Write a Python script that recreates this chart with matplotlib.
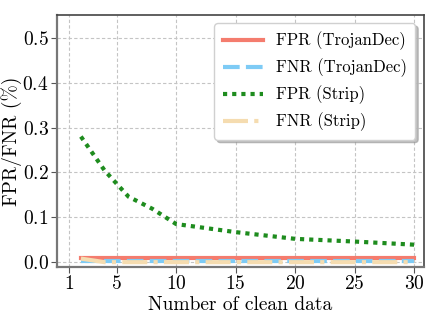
import matplotlib
matplotlib.use('Agg')
import matplotlib.pyplot as plt

# Fonts that look like LaTeX Computer Modern
plt.rcParams['font.family'] = 'serif'
plt.rcParams['font.serif'] = ['cmr10']
plt.rcParams['mathtext.fontset'] = 'cm'
plt.rcParams['axes.formatter.use_mathtext'] = True

# Data
x_strip = [2, 4, 6, 8, 10, 15, 20, 25, 30]
fpr_strip = [0.28, 0.204, 0.146, 0.119, 0.085, 0.067, 0.052, 0.046, 0.039]
fnr_strip = [0.008, 0.0, 0.0, 0.0, 0.0, 0.0, 0.0, 0.0, 0.0]
x_trojan = [2, 4, 6, 8, 10, 15, 20, 25, 30]
fpr_trojan = [0.01, 0.01, 0.01, 0.01, 0.01, 0.01, 0.01, 0.01, 0.01]
fnr_trojan = [0.003, 0.003, 0.003, 0.003, 0.003, 0.003, 0.003, 0.003, 0.003]
x_ticks = [1, 5, 10, 15, 20, 25, 30]

fig, ax = plt.subplots(figsize=(4.46, 3.18), dpi=100)

ax.plot(x_trojan, fpr_trojan, color='#f47c6e', linewidth=3, label='FPR (TrojanDec)')
ax.plot(x_trojan, fnr_trojan, color='#7ecbf5', linewidth=3, linestyle=(0, (4, 1.5)),
        label='FNR (TrojanDec)')
ax.plot(x_strip, fpr_strip, color='#1e8c1e', linewidth=3, linestyle=(0, (1, 1.2)),
        label='FPR (Strip)')
ax.plot(x_strip, fnr_strip, color='#f5dcb0', linewidth=3, linestyle=(0, (6, 1.5, 1, 1.5)),
        label='FNR (Strip)')

ax.set_xlim(0, 30.8)
ax.set_ylim(-0.011, 0.551)
ax.set_xticks(x_ticks)
ax.set_yticks([0.0, 0.1, 0.2, 0.3, 0.4, 0.5])
ax.tick_params(labelsize=14, length=4, color='#555555', pad=2)
ax.grid(True, linestyle=(0, (3, 2)), color='#c4c4c4', linewidth=0.8)

for s in ax.spines.values():
    s.set_color('#444444')
    s.set_linewidth(1.2)
ax.spines['left'].set_color('#777777')
ax.spines['bottom'].set_color('#777777')
ax.spines['left'].set_linewidth(1.6)
ax.spines['bottom'].set_linewidth(1.6)

ax.set_xlabel('Number of clean data', fontsize=14, labelpad=2)
ax.set_ylabel('FPR/FNR (%)', fontsize=14, labelpad=0)

leg = ax.legend(loc='upper right', fontsize=12, handlelength=2.4,
                shadow={'color': '#999999', 'alpha': 0.6},
                fancybox=True, framealpha=1, borderpad=0.5, borderaxespad=0.5)
leg.get_frame().set_edgecolor('#d0d0d0')

plt.subplots_adjust(left=0.128, right=0.95, top=0.953, bottom=0.16)
plt.savefig('out.png')
